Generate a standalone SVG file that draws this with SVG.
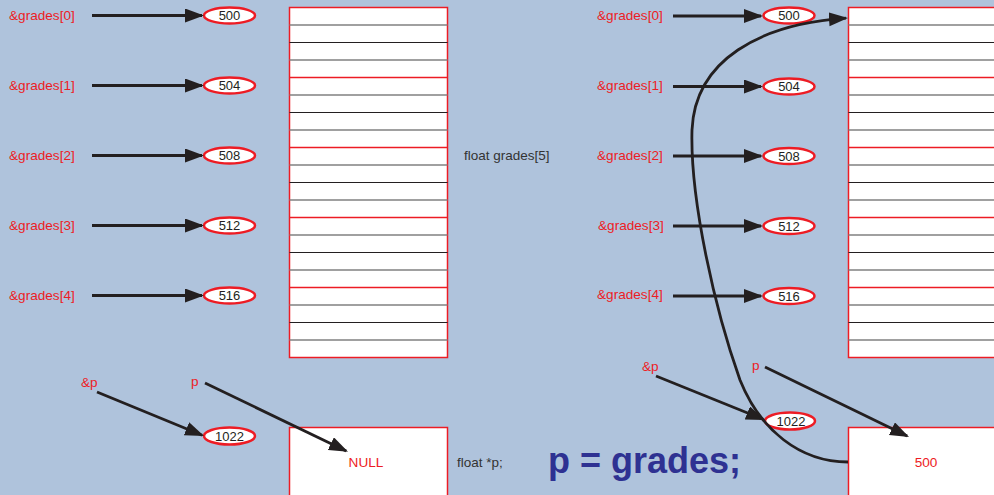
<svg xmlns="http://www.w3.org/2000/svg" width="994" height="495" viewBox="0 0 994 495">
<defs>
<style>
.lbl{font-family:"Liberation Sans",Arial,sans-serif;font-size:13.6px;fill:#ed1c24}
.val{font-family:"Liberation Sans",Arial,sans-serif;font-size:13px;fill:#231f20;text-anchor:middle}
.dark{font-family:"Liberation Sans",Arial,sans-serif;font-size:13.5px;fill:#333}
.ell{fill:#fff;stroke:#ed1c24;stroke-width:2.5}
.mem{fill:#fff;stroke:#ed1c24;stroke-width:1.5}
.g{stroke:#808080;stroke-width:1.3}
.b{stroke:#231f20;stroke-width:1.2}
.r{stroke:#ed1c24;stroke-width:1.5}
.arr{fill:none;stroke:#231f20;stroke-width:2.8;marker-end:url(#ah)}
.curve{fill:none;stroke:#231f20;stroke-width:2.8;marker-end:url(#ah)}
</style>
<marker id="ah" markerUnits="userSpaceOnUse" markerWidth="20" markerHeight="15" refX="17" refY="7" orient="auto">
<path d="M0,0 L19,7 L0,14 z" fill="#231f20"/>
</marker>
<g id="memrows">
<line class="g" x1="289.5" x2="447.5" y1="25" y2="25"/>
<line class="b" x1="289.5" x2="447.5" y1="42.5" y2="42.5"/>
<line class="g" x1="289.5" x2="447.5" y1="60" y2="60"/>
<line class="r" x1="289.5" x2="447.5" y1="77.5" y2="77.5"/>
<line class="g" x1="289.5" x2="447.5" y1="95" y2="95"/>
<line class="b" x1="289.5" x2="447.5" y1="112.5" y2="112.5"/>
<line class="g" x1="289.5" x2="447.5" y1="130" y2="130"/>
<line class="r" x1="289.5" x2="447.5" y1="147.5" y2="147.5"/>
<line class="g" x1="289.5" x2="447.5" y1="165" y2="165"/>
<line class="b" x1="289.5" x2="447.5" y1="182.5" y2="182.5"/>
<line class="g" x1="289.5" x2="447.5" y1="200" y2="200"/>
<line class="r" x1="289.5" x2="447.5" y1="217.5" y2="217.5"/>
<line class="g" x1="289.5" x2="447.5" y1="235" y2="235"/>
<line class="b" x1="289.5" x2="447.5" y1="252.5" y2="252.5"/>
<line class="g" x1="289.5" x2="447.5" y1="270" y2="270"/>
<line class="r" x1="289.5" x2="447.5" y1="287.5" y2="287.5"/>
<line class="g" x1="289.5" x2="447.5" y1="305" y2="305"/>
<line class="b" x1="289.5" x2="447.5" y1="322.5" y2="322.5"/>
<line class="g" x1="289.5" x2="447.5" y1="340" y2="340"/>
</g>
</defs>
<rect width="994" height="495" fill="#afc3dc"/>

<!-- LEFT -->
<g id="left-memory">
<rect class="mem" x="289.5" y="7.5" width="158" height="350"/>
<use href="#memrows"/>
</g>
<g id="left-labels">
<text class="lbl" x="9" y="20">&amp;grades[0]</text>
<text class="lbl" x="9" y="90">&amp;grades[1]</text>
<text class="lbl" x="9" y="160">&amp;grades[2]</text>
<text class="lbl" x="9" y="230">&amp;grades[3]</text>
<text class="lbl" x="9" y="300">&amp;grades[4]</text>
<text class="lbl" x="81" y="387">&amp;p</text>
<text class="lbl" x="191" y="386">p</text>
</g>
<g id="left-addr-500"><ellipse class="ell" cx="229.5" cy="15.5" rx="25.5" ry="8"/><text class="val" x="229.5" y="20">500</text></g>
<g id="left-addr-504"><ellipse class="ell" cx="229.5" cy="85.5" rx="25.5" ry="8"/><text class="val" x="229.5" y="90">504</text></g>
<g id="left-addr-508"><ellipse class="ell" cx="229.5" cy="155.5" rx="25.5" ry="8"/><text class="val" x="229.5" y="160">508</text></g>
<g id="left-addr-512"><ellipse class="ell" cx="229.5" cy="225.5" rx="25.5" ry="8"/><text class="val" x="229.5" y="230">512</text></g>
<g id="left-addr-516"><ellipse class="ell" cx="229.5" cy="295.5" rx="25.5" ry="8"/><text class="val" x="229.5" y="300">516</text></g>
<g id="left-addr-1022"><ellipse class="ell" cx="229.5" cy="436" rx="25.5" ry="8.5"/><text class="val" x="229.5" y="440.5">1022</text></g>
<g id="left-pbox">
<rect class="mem" x="289.5" y="427.5" width="158" height="80"/>
<text class="lbl" x="366" y="467" text-anchor="middle">NULL</text>
</g>
<text class="dark" x="464" y="160">float grades[5]</text>
<text class="dark" x="457" y="467">float *p;</text>
<text x="548" y="473" font-family="Liberation Sans,Arial,sans-serif" font-weight="bold" font-size="36" fill="#2e3192">p = grades;</text>

<!-- RIGHT -->
<g id="right-memory">
<rect class="mem" x="848.5" y="7.5" width="158" height="350"/>
<use href="#memrows" transform="translate(559 0)"/>
</g>
<g id="right-labels">
<text class="lbl" x="597" y="20">&amp;grades[0]</text>
<text class="lbl" x="597" y="90">&amp;grades[1]</text>
<text class="lbl" x="597" y="160">&amp;grades[2]</text>
<text class="lbl" x="598" y="230">&amp;grades[3]</text>
<text class="lbl" x="597" y="299">&amp;grades[4]</text>
<text class="lbl" x="642" y="371">&amp;p</text>
<text class="lbl" x="752" y="370">p</text>
</g>
<g id="right-addr-500"><ellipse class="ell" cx="789" cy="15.5" rx="25.5" ry="8"/><text class="val" x="789" y="20">500</text></g>
<g id="right-addr-504"><ellipse class="ell" cx="789" cy="86.5" rx="25.5" ry="8"/><text class="val" x="789" y="91">504</text></g>
<g id="right-addr-508"><ellipse class="ell" cx="789" cy="156" rx="25.5" ry="8"/><text class="val" x="789" y="160.5">508</text></g>
<g id="right-addr-512"><ellipse class="ell" cx="789" cy="226" rx="25.5" ry="8"/><text class="val" x="789" y="230.5">512</text></g>
<g id="right-addr-516"><ellipse class="ell" cx="789" cy="296" rx="25.5" ry="8"/><text class="val" x="789" y="300.5">516</text></g>
<g id="right-addr-1022"><ellipse class="ell" cx="790" cy="421" rx="25" ry="8.5"/><text class="val" x="791" y="425.5">1022</text></g>
<g id="right-pbox">
<rect class="mem" x="848.5" y="427.5" width="158" height="80"/>
<text class="lbl" x="926" y="467" text-anchor="middle">500</text>
</g>

<g id="connectors">
<line class="arr" x1="92" y1="15.5" x2="202" y2="15.5"/>
<line class="arr" x1="92" y1="85.5" x2="202" y2="85.5"/>
<line class="arr" x1="92" y1="155.5" x2="202" y2="155.5"/>
<line class="arr" x1="92" y1="225.5" x2="202" y2="225.5"/>
<line class="arr" x1="92" y1="295.5" x2="202" y2="295.5"/>
<line class="arr" x1="97" y1="392" x2="202.2" y2="435.3"/>
<line class="arr" x1="205" y1="383" x2="346.2" y2="451"/>
<line class="arr" x1="673" y1="16" x2="761" y2="16"/>
<line class="arr" x1="673" y1="86.5" x2="761" y2="86.5"/>
<line class="arr" x1="673" y1="156" x2="761" y2="156"/>
<line class="arr" x1="673" y1="226" x2="761" y2="226"/>
<line class="arr" x1="673" y1="296" x2="761" y2="296"/>
<line class="arr" x1="656" y1="376" x2="763.1" y2="419.3"/>
<line class="arr" x1="765" y1="367" x2="907.2" y2="436.1"/>
<path class="curve" d="M848,462 C800,462 760,430 740,380 C715,310 690,200 692,130 C695,60 760,24 846,18.2"/>
</g>
</svg>
